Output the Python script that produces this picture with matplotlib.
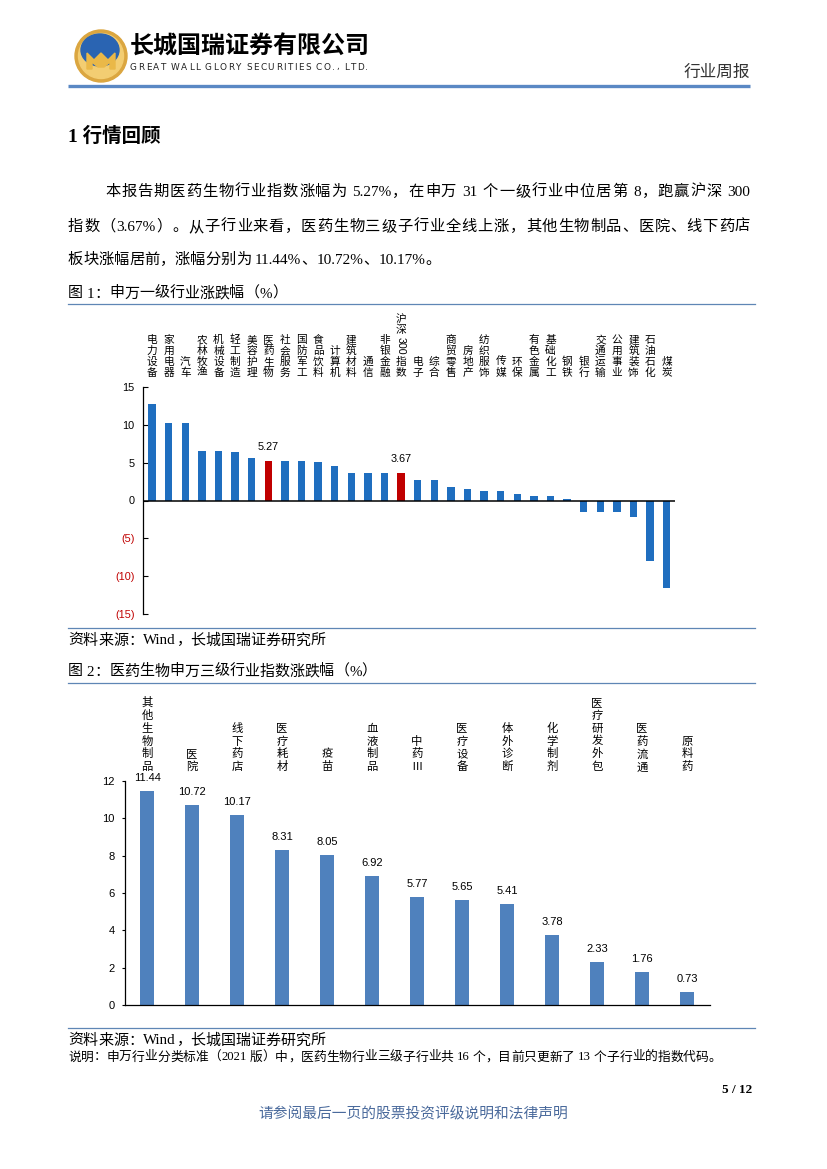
import re
import numpy as np
import matplotlib
matplotlib.use("Agg")
import matplotlib.pyplot as plt
from matplotlib.patches import Circle, Ellipse, Polygon

# ---------------- data ----------------
cats1 = ["电力设备", "家用电器", "汽车", "农林牧渔", "机械设备", "轻工制造", "美容护理",
         "医药生物", "社会服务", "国防军工", "食品饮料", "计算机", "建筑材料", "通信",
         "非银金融", "沪深300指数", "电子", "综合", "商贸零售", "房地产", "纺织服饰",
         "传媒", "环保", "有色金属", "基础化工", "钢铁", "银行", "交通运输", "公用事业",
         "建筑装饰", "石油石化", "煤炭"]
vals1 = [12.8, 10.2, 10.2, 6.57, 6.5, 6.35, 5.56, 5.27, 5.16, 5.16, 5.03, 4.5, 3.7, 3.7,
         3.7, 3.67, 2.65, 2.65, 1.8, 1.55, 1.3, 1.2, 0.88, 0.53, 0.53, 0.15, -1.54, -1.54,
         -1.54, -2.2, -8.0, -11.55]
highlight1 = ["医药生物", "沪深300指数"]
yticks1 = [-15, -10, -5, 0, 5, 10, 15]
yticklabels1 = ["(15)", "(10)", "(5)", "0", "5", "10", "15"]

cats2 = ["其他生物制品", "医院", "线下药店", "医疗耗材", "疫苗", "血液制品", "中药Ⅲ",
         "医疗设备", "体外诊断", "化学制剂", "医疗研发外包", "医药流通", "原料药"]
vals2 = [11.44, 10.72, 10.17, 8.31, 8.05, 6.92, 5.77, 5.65, 5.41, 3.78, 2.33, 1.76, 0.73]
yticks2 = [0, 2, 4, 6, 8, 10, 12]

# ---------------- page ----------------
W, H = 827, 1169
CJK = "Noto Sans CJK SC"
BODY = ["Liberation Serif", CJK]
SANS = ["Liberation Sans", CJK]
BLUE1 = "#1f6ebf"
RED = "#c00000"
BLUE2 = "#4f81bd"
RULE = "#5f86b5"

fig = plt.figure(figsize=(W / 100, H / 100), dpi=100)
page = fig.add_axes([0, 0, 1, 1])
page.set_xlim(0, W)
page.set_ylim(H, 0)
page.axis("off")
R = fig.canvas.get_renderer()


def put_line(text, x0, y, fs, x1=None, family=BODY, per_char=False, **kw):
    pat = r"\S|\s" if per_char else r"[A-Za-z0-9.%]+|\s|."
    toks = re.findall(pat, text)
    objs, widths = [], []
    for t in toks:
        if t.isspace():
            objs.append(None)
            widths.append(fs * 100 / 72 * 0.25)
        else:
            o = page.text(x0, y, t, fontsize=fs, va="baseline", ha="left", family=family, **kw)
            objs.append(o)
            widths.append(o.get_window_extent(R).width)
    gap = 0 if x1 is None else (x1 - x0 - sum(widths)) / (len(toks) - 1)
    x = x0
    for o, w in zip(objs, widths):
        if o is not None:
            o.set_x(x)
        x += w + gap


# logo
page.add_patch(Circle((101, 56), 26, color="#dba640", zorder=1))
page.add_patch(Circle((101, 56), 22.5, color="#f3cd72", zorder=1))
page.add_patch(Ellipse((100, 50), 38, 32, color="#2a64b2", zorder=2))
page.add_patch(Polygon([[87, 69], [87, 53], [94, 60], [101, 53], [108, 60], [115, 53], [115, 69],
                        [110, 69], [110, 62], [104, 67], [98, 67], [92, 62], [92, 69]],
                       closed=True, color="#eab848", zorder=3))

page.text(130, 54, "长城国瑞证券有限公司", fontsize=17.3, fontweight="bold", family=CJK,
          va="baseline", ha="left")
put_line("GREAT WALL GLORY SECURITIES CO., LTD.", 130, 69.5, 6.4, x1=368,
         family="DejaVu Sans", per_char=True, color="#222222")
page.text(750, 77, "行业周报", fontsize=12, family=CJK, va="baseline", ha="right", color="#333333")
page.plot([68, 750], [86, 86], color="#5a88c4", lw=2.4, solid_capstyle="butt")

page.text(68, 142, "1 行情回顾", fontsize=14, fontweight="bold", family=BODY, va="baseline", ha="left")

put_line("本报告期医药生物行业指数涨幅为 5.27%，在申万 31 个一级行业中位居第 8，跑赢沪深 300",
         105, 196, 11, x1=750)
put_line("指数（3.67%）。从子行业来看，医药生物三级子行业全线上涨，其他生物制品、医院、线下药店",
         68, 231, 11, x1=750)
put_line("板块涨幅居前，涨幅分别为 11.44%、10.72%、10.17%。", 68, 264, 11)

put_line("图 1：申万一级行业涨跌幅（%）", 68, 297.5, 10.8)
page.plot([68, 755], [303.5, 303.5], color=RULE, lw=0.9)
page.plot([68, 755], [627.5, 627.5], color=RULE, lw=0.9)
put_line("资料来源：Wind，长城国瑞证券研究所", 68, 644.5, 10.8)
put_line("图 2：医药生物申万三级行业指数涨跌幅（%）", 68, 675.5, 10.8)
page.plot([68, 755], [682.5, 682.5], color=RULE, lw=0.9)
page.plot([68, 755], [1027.5, 1027.5], color=RULE, lw=0.9)
put_line("资料来源：Wind，长城国瑞证券研究所", 68, 1044.5, 10.8)
put_line("说明：申万行业分类标准（2021 版）中，医药生物行业三级子行业共 16 个，目前只更新了 13 个子行业的指数代码。",
         68, 1060.5, 9.2)
page.text(752, 1093, "5 / 12", fontsize=9.5, fontweight="bold", family="Liberation Serif",
          va="baseline", ha="right")
page.text(413, 1118, "请参阅最后一页的股票投资评级说明和法律声明", fontsize=10.6, family=CJK,
          va="baseline", ha="center", color="#4a6a9c")


def vlabels(ax, cats, fs, pitch, gap):
    em = fs * 100 / 72
    for i, lab in enumerate(cats):
        toks = re.findall(r"\d+|.", lab)
        cur = gap
        for tok in reversed(toks):
            if tok.isdigit():
                h = len(tok) * em * 0.56 + 1
                ax.annotate(tok, xy=(i, 1), xycoords=("data", "axes fraction"),
                            xytext=(0, cur + 1), textcoords="offset pixels", ha="center",
                            va="bottom", rotation=-90, fontsize=fs, family=SANS,
                            annotation_clip=False)
                cur += h + (pitch - em) + 2
            else:
                ax.annotate(tok, xy=(i, 1), xycoords=("data", "axes fraction"),
                            xytext=(0, cur + 0.12 * em), textcoords="offset pixels", ha="center",
                            va="baseline", fontsize=fs, family=SANS, annotation_clip=False)
                cur += pitch


# ---------------- chart 1 ----------------
ax1 = fig.add_axes([143 / W, 1 - 614 / H, (675 - 143) / W, (614 - 387) / H])
ax1.patch.set_alpha(0)
x1 = np.arange(len(cats1))
colors1 = [RED if c in highlight1 else BLUE1 for c in cats1]
ax1.bar(x1, vals1, width=0.44, color=colors1, zorder=2)
ax1.axhline(0, color="black", lw=1.1, zorder=3)
ax1.set_xlim(-0.55, len(cats1) - 0.5)
ax1.set_ylim(-15, 15)
ax1.set_xticks([])
ax1.set_yticks(yticks1)
ax1.set_yticklabels(yticklabels1, family=SANS, fontsize=7.8)
for t, v in zip(ax1.get_yticklabels(), yticks1):
    t.set_color(RED if v < 0 else "black")
ax1.tick_params(axis="y", direction="in", length=3.5, width=0.8, pad=6)
for s in ["top", "right", "bottom"]:
    ax1.spines[s].set_visible(False)
ax1.spines["left"].set_linewidth(0.9)
for i, (c, v) in enumerate(zip(cats1, vals1)):
    if c in highlight1:
        ax1.annotate(f"{v:.2f}", xy=(i, v), xytext=(0, 9), textcoords="offset pixels",
                     ha="center", va="bottom", fontsize=7.8, family=SANS)
vlabels(ax1, cats1, 7.7, 10.8, 10)

# ---------------- chart 2 ----------------
ax2 = fig.add_axes([125 / W, 1 - 1005.3 / H, (710 - 125) / W, (1005.3 - 780.7) / H])
ax2.patch.set_alpha(0)
x2 = np.arange(len(cats2))
ax2.bar(x2, vals2, width=0.31, color=BLUE2, zorder=2)
ax2.set_xlim(-0.49, len(cats2) - 0.49)
ax2.set_ylim(0, 12)
ax2.set_xticks([])
ax2.set_yticks(yticks2)
ax2.set_yticklabels([str(v) for v in yticks2], family=SANS, fontsize=8)
ax2.tick_params(axis="y", direction="out", length=2.5, width=0.8, pad=5)
for s in ["top", "right"]:
    ax2.spines[s].set_visible(False)
for s in ["left", "bottom"]:
    ax2.spines[s].set_linewidth(0.9)
for i, v in enumerate(vals2):
    ax2.annotate(f"{v:.2f}", xy=(i, v), xytext=(0, 8), textcoords="offset pixels",
                 ha="center", va="bottom", fontsize=8, family=SANS)
vlabels(ax2, cats2, 8.2, 12.9, 9)

fig.savefig("out.png", dpi=100)
